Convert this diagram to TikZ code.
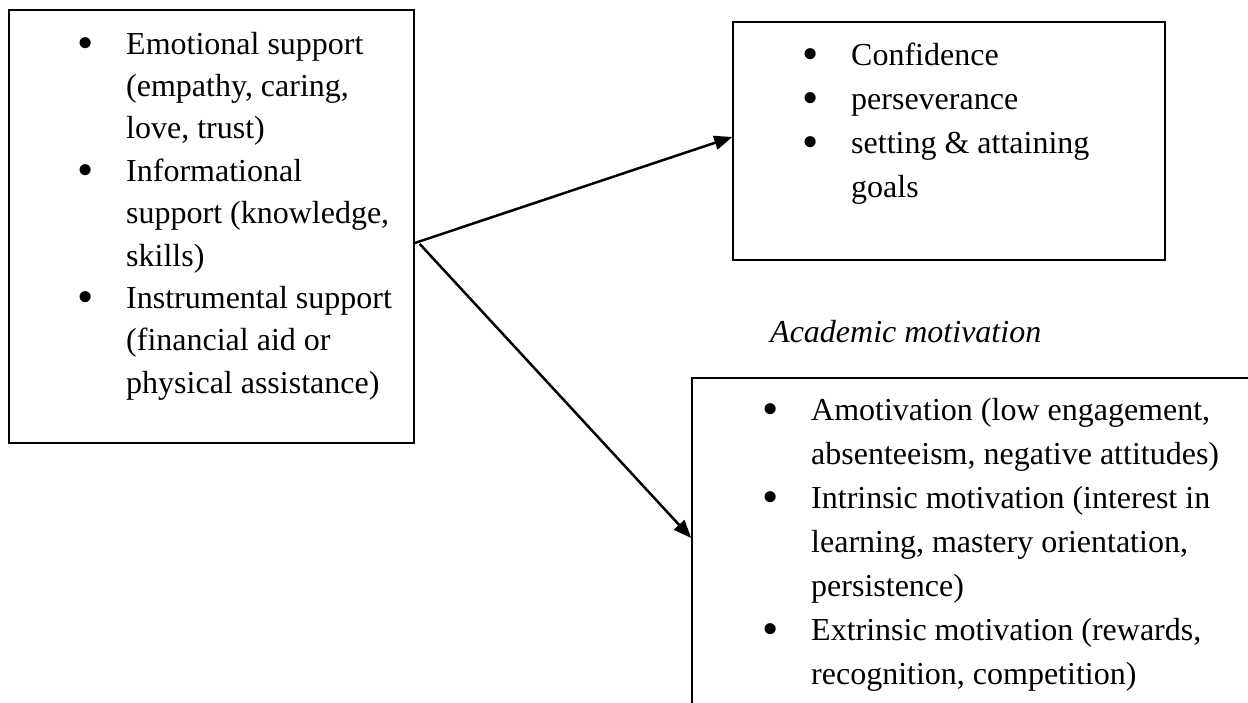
\documentclass[tikz,border=0pt]{standalone}
\usepackage{fontspec}
\setmainfont{Liberation Serif}
\usetikzlibrary{arrows.meta}
\newcommand{\bl}[1]{\makebox[0pt]{\raisebox{-4pt}{\scalebox{1.45}{\textbullet}}}\hspace*{41pt}#1}
\newcommand{\cl}[1]{\hspace*{41pt}#1}
\begin{document}
\begin{tikzpicture}[x=1pt,y=-1pt,
  boxshape/.style={draw, rectangle, line width=1.5pt, inner sep=0pt},
  conn/.style={line width=2.5pt, -{Triangle[length=18pt,width=14pt]}},
  listtext/.style={anchor=base west, inner sep=0pt, align=left},
  lefttxt/.style={listtext, font=\fontsize{32}{42.4}\selectfont},
  righttxt/.style={listtext, font=\fontsize{32}{44}\selectfont}]
\useasboundingbox (0,0) rectangle (1248,702);
\clip (0,0) rectangle (1248,702);
% boxes
\node[boxshape, minimum width=405pt, minimum height=433pt] (lb) at (211.5,226.5) {};
\node[boxshape, minimum width=432pt, minimum height=238pt] (tr) at (949,141) {};
\node[boxshape, minimum width=578pt, minimum height=342pt] (br) at (981,549) {};
% texts
\node[lefttxt] (lbt) at (85,54) {\begin{tabular}[t]{@{}l@{}}
\bl{Emotional support}\\
\cl{(empathy, caring,}\\
\cl{love, trust)}\\
\bl{Informational}\\
\cl{support (knowledge,}\\
\cl{skills)}\\
\bl{Instrumental support}\\
\cl{(financial aid or}\\
\cl{physical assistance)}
\end{tabular}};
\node[righttxt] (trt) at (810,65) {\begin{tabular}[t]{@{}l@{}}
\bl{Confidence}\\
\bl{perseverance}\\
\bl{setting \& attaining}\\
\cl{goals}
\end{tabular}};
\node[righttxt] (brt) at (770,420) {\begin{tabular}[t]{@{}l@{}}
\bl{Amotivation (low engagement,}\\
\cl{absenteeism, negative attitudes)}\\
\bl{Intrinsic motivation (interest in}\\
\cl{learning, mastery orientation,}\\
\cl{persistence)}\\
\bl{Extrinsic motivation (rewards,}\\
\cl{recognition, competition)}
\end{tabular}};
\node[listtext, font=\fontsize{32}{44}\selectfont\itshape] (acad) at (770,342) {Academic motivation};
% connectors
\draw[conn] ([yshift=-16.5pt]lb.east) -- ([yshift=4pt]tr.west);
\draw[conn] ([xshift=5pt,yshift=-17.5pt]lb.east) -- ([yshift=11pt]br.west);
\end{tikzpicture}
\end{document}
